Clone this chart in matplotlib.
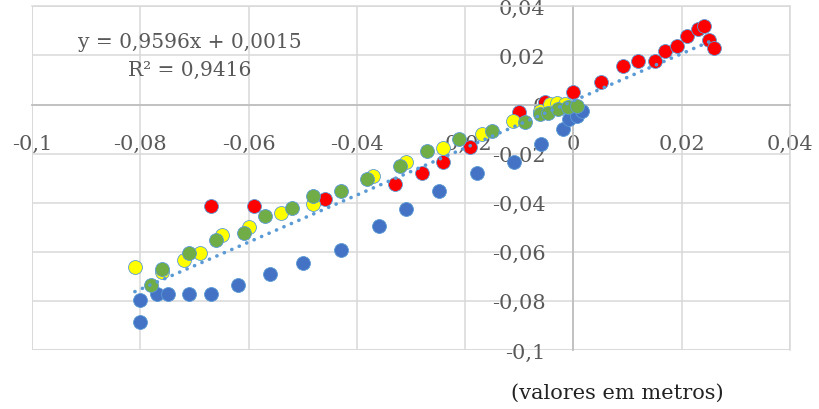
import matplotlib
matplotlib.use("Agg")
import matplotlib.pyplot as plt
import numpy as np

# ---- data (metres) ----
blue_x = [-0.0800, -0.0800, -0.0769, -0.0749, -0.0710, -0.0670, -0.0620, -0.0560, -0.0500,
          -0.0429, -0.0359, -0.0310, -0.0248, -0.0179, -0.0110, -0.0059, -0.0019, -0.0008,
          0.0006, 0.0015]
blue_y = [-0.0885, -0.0795, -0.0773, -0.0773, -0.0773, -0.0773, -0.0734, -0.0692, -0.0644,
          -0.0593, -0.0494, -0.0424, -0.0352, -0.0278, -0.0235, -0.0160, -0.0101, -0.0060,
          -0.0046, -0.0026]

red_x = [-0.0670, -0.0590, -0.0459, -0.0330, -0.0280, -0.0240, -0.0191, -0.0100, -0.0053,
         0.0000, 0.0051, 0.0091, 0.0120, 0.0151, 0.0170, 0.0191, 0.0210, 0.0230, 0.0241,
         0.0251, 0.0260]
red_y = [-0.0413, -0.0413, -0.0383, -0.0323, -0.0281, -0.0234, -0.0175, -0.0030, 0.0011,
         0.0049, 0.0090, 0.0157, 0.0178, 0.0178, 0.0218, 0.0239, 0.0279, 0.0308, 0.0319,
         0.0261, 0.0232]

yellow_x = [-0.0810, -0.0759, -0.0719, -0.0690, -0.0650, -0.0599, -0.0540, -0.0481, -0.0370,
            -0.0310, -0.0240, -0.0169, -0.0111, -0.0062, -0.0043, -0.0030, -0.0016]
yellow_y = [-0.0663, -0.0684, -0.0632, -0.0603, -0.0532, -0.0501, -0.0442, -0.0404, -0.0291,
            -0.0233, -0.0179, -0.0121, -0.0067, -0.0026, 0.0001, 0.0008, 0.0001]

green_x = [-0.0780, -0.0759, -0.0710, -0.0660, -0.0609, -0.0569, -0.0519, -0.0481, -0.0430,
           -0.0381, -0.0320, -0.0270, -0.0211, -0.0151, -0.0090, -0.0062, -0.0047, -0.0028,
           -0.0010, 0.0006]
green_y = [-0.0734, -0.0671, -0.0603, -0.0553, -0.0523, -0.0453, -0.0423, -0.0372, -0.0354,
           -0.0304, -0.0250, -0.0189, -0.0141, -0.0109, -0.0073, -0.0040, -0.0033, -0.0019,
           -0.0012, -0.0006]

slope, intercept = 0.9596, 0.0015
eq_text = "y = 0,9596x + 0,0015"
r2_text = "R² = 0,9416"
unit_text = "(valores em metros)"

x_ticks = [-0.1, -0.08, -0.06, -0.04, -0.02, 0, 0.02, 0.04]
x_ticklabels = ["-0,1", "-0,08", "-0,06", "-0,04", "-0,02", "0", "0,02", "0,04"]
y_ticks = [-0.1, -0.08, -0.06, -0.04, -0.02, 0, 0.02, 0.04]
y_ticklabels = ["-0,1", "-0,08", "-0,06", "-0,04", "-0,02", "0", "0,02", "0,04"]

# ---- figure ----
plt.rcParams['font.family'] = ['DejaVu Serif']
txt_col = "#595959"
fig = plt.figure(figsize=(8.19, 4.10), dpi=100)
ax = fig.add_axes([32/819, 1-351/410, (790-32)/819, (351-7.3)/410])
ax.set_xlim(-0.1, 0.04)
ax.set_ylim(-0.1, 0.04)

ax.grid(True, color="#D9D9D9", linewidth=1.1, zorder=0)
ax.set_axisbelow(True)

for s in ["top", "right"]:
    ax.spines[s].set_color("#D9D9D9")
    ax.spines[s].set_linewidth(1.1)
ax.spines["left"].set_position(("data", 0))
ax.spines["bottom"].set_position(("data", 0))
for s in ["left", "bottom"]:
    ax.spines[s].set_color("#BFBFBF")
    ax.spines[s].set_linewidth(1.3)
ax.axvline(-0.1, color="#D9D9D9", lw=1.1, zorder=0)
ax.axhline(-0.1, color="#D9D9D9", lw=1.1, zorder=0)

ax.set_xticks(x_ticks)
ax.set_xticklabels(x_ticklabels)
ax.set_yticks(y_ticks)
ax.set_yticklabels(y_ticklabels)
ax.tick_params(axis="both", length=0, labelsize=15, labelcolor=txt_col)
ax.tick_params(axis="x", pad=21)
ax.tick_params(axis="y", pad=20)

ms = 100
ec = "#5B9BD5"
ax.scatter(blue_x, blue_y, s=ms, color="#4472C4", edgecolors=ec, linewidths=0.6, zorder=3)
ax.scatter(red_x, red_y, s=ms, color="#FF0000", edgecolors=ec, linewidths=0.6, zorder=3)
ax.scatter(yellow_x, yellow_y, s=ms, color="#FFFF00", edgecolors=ec, linewidths=0.6, zorder=3)
ax.scatter(green_x, green_y, s=ms, color="#70AD47", edgecolors=ec, linewidths=0.6, zorder=3)

all_x = np.array(blue_x + red_x + yellow_x + green_x)
tx = np.array([all_x.min(), all_x.max()])
ax.plot(tx, slope*tx + intercept, color="#5B9BD5", lw=2.6,
        linestyle=(0, (0.05, 2.2)), dash_capstyle="round", zorder=4)

fig.text(190/819, 1-43/410, eq_text, ha="center", va="center", fontsize=14.5, color=txt_col)
fig.text(190/819, 1-70/410, r2_text, ha="center", va="center", fontsize=14.5, color=txt_col)
fig.text(617/819, 1-393/410, unit_text, ha="center", va="center", fontsize=15, color="#222222")

fig.savefig("out.png", dpi=100)
